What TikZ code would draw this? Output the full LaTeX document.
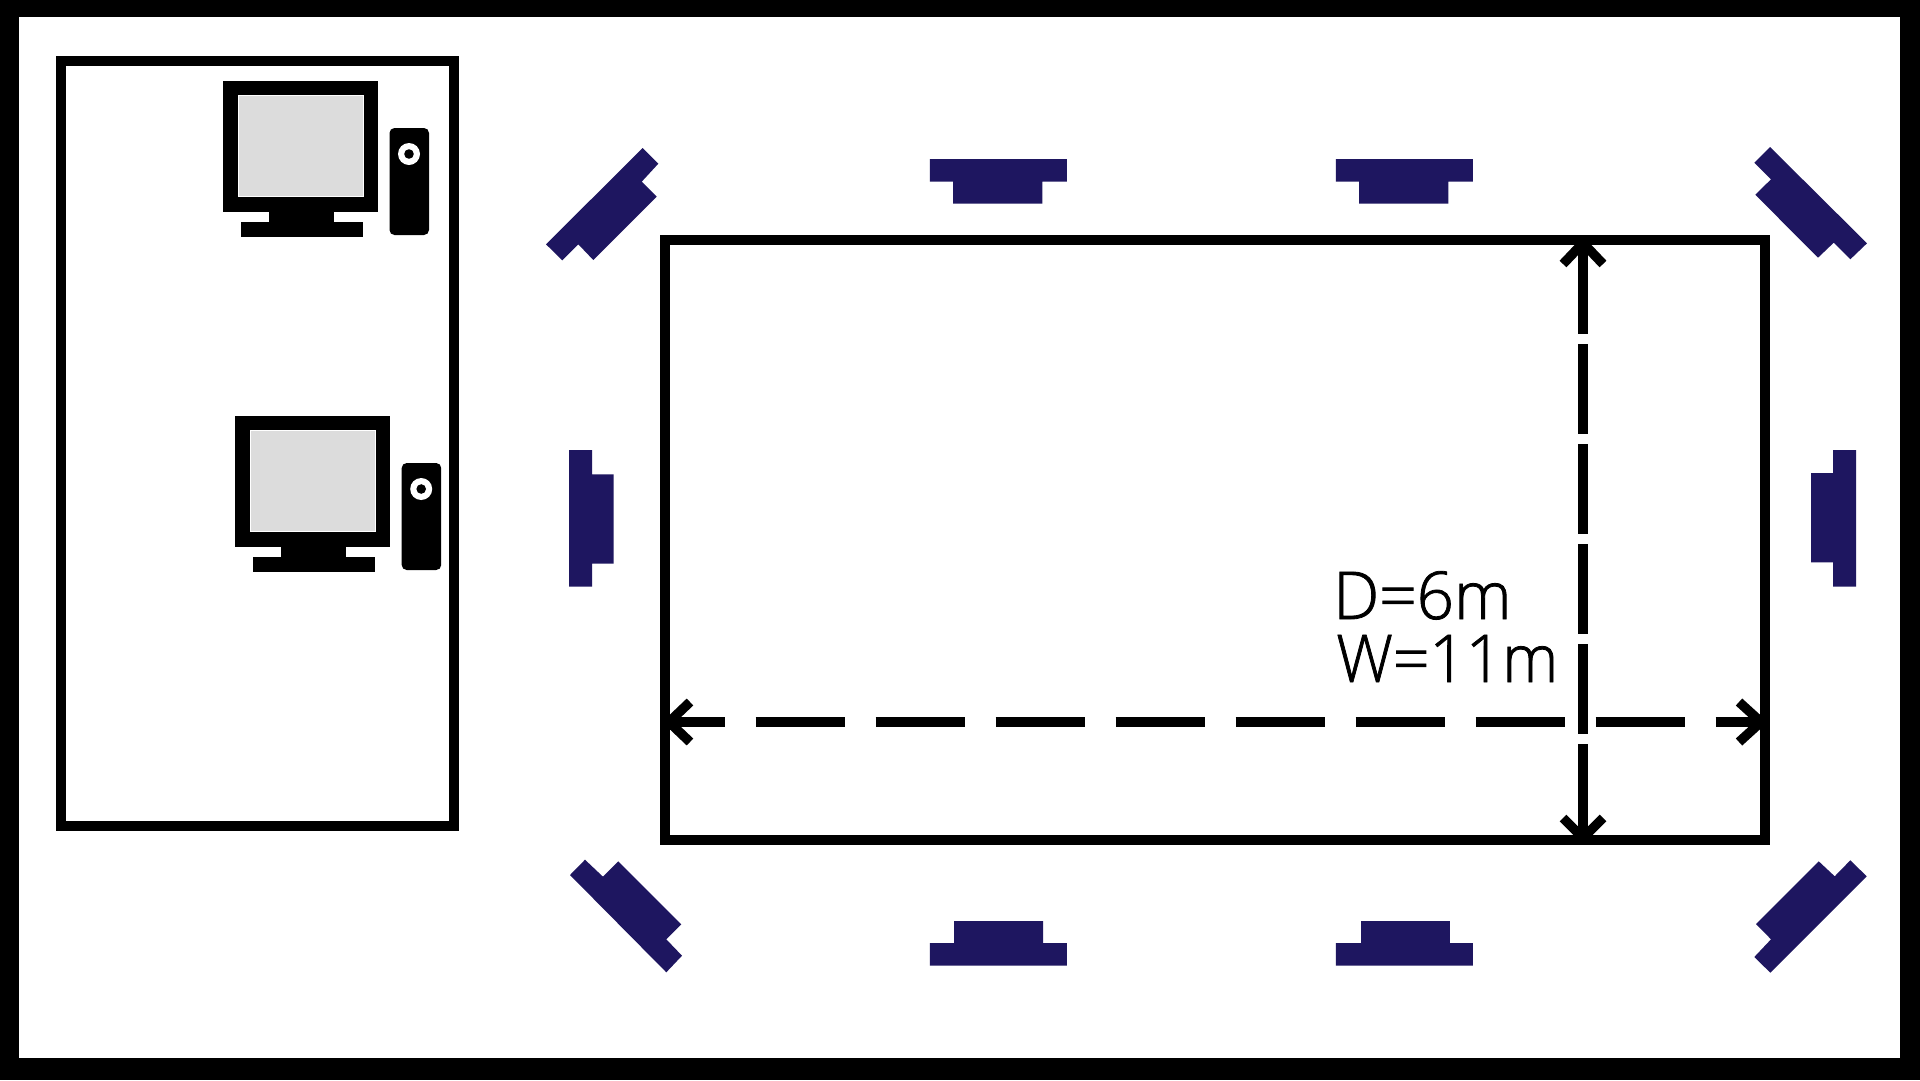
\documentclass[tikz,border=0pt]{standalone}
\usepackage{fontspec}
\setmainfont[FakeStretch=0.99,FakeBold=1.2]{Open Sans Light}
\definecolor{spk}{HTML}{1E1660}
\definecolor{scr}{HTML}{DCDCDC}
\tikzset{
  wall/.style={draw=black,line width=10pt,miter limit=10},
  spkbox/.style={fill=spk,draw=none},
  dimline/.style={draw=black,line width=9.5pt,line cap=butt},
  vee/.style={draw=black,line width=9.5pt,line join=miter,line cap=butt,miter limit=10},
  lbl/.style={font=\fontsize{66}{66}\selectfont,anchor=base west,inner sep=0pt,text=black}
}
\begin{document}
\begin{tikzpicture}[x=1pt,y=-1pt]
\useasboundingbox (0,0) rectangle (1920,1080);
% frame
\fill[black] (0,0) rectangle (1920,1080);
\fill[white] (19,17) rectangle (1900,1058);
% control room and hall
\draw[wall] (61,61) rectangle (454,825.5);
\draw[wall] (665,240) rectangle (1765,840);
% computers
\foreach \dx/\dy in {0/0,12.2/335}{
\begin{scope}[shift={(\dx,\dy)}]
  \fill[black] (223,81) rectangle (378,212);
  \fill[black] (269,212) rectangle (334,223);
  \fill[black] (240.5,222) rectangle (362.5,237);
  \fill[scr,draw=white,line width=1.2pt] (238.5,95.5) rectangle (363.5,196.5);
  \fill[black,rounded corners=5pt] (389.5,128) rectangle (429,235);
  \fill[white] (409,154) circle (11);
  \fill[black] (409,154) circle (4.8);
\end{scope}}
% speakers, straight
\fill[spkbox] (929.8,159) -- (1066.8,159) -- (1066.8,181.7) -- (1042.3,181.7) -- (1042.3,203.7) -- (953.2,203.7) -- (953.2,181.7) -- (929.8,181.7) -- cycle;
\fill[spkbox] (1335.9,159) -- (1472.8,159) -- (1472.8,181.7) -- (1448.3,181.7) -- (1448.3,203.7) -- (1359.2,203.7) -- (1359.2,181.7) -- (1335.9,181.7) -- cycle;
\fill[spkbox] (929.8,965.7) -- (1066.8,965.7) -- (1066.8,943) -- (1043.1,943) -- (1043.1,921) -- (954,921) -- (954,943) -- (929.8,943) -- cycle;
\fill[spkbox] (1335.9,965.7) -- (1472.8,965.7) -- (1472.8,943) -- (1449.9,943) -- (1449.9,921) -- (1361.1,921) -- (1361.1,943) -- (1335.9,943) -- cycle;
\fill[spkbox] (569,450) -- (592,450) -- (592,474.3) -- (613.7,474.3) -- (613.7,563.7) -- (592,563.7) -- (592,586.7) -- (569,586.7) -- cycle;
\fill[spkbox] (1856,450) -- (1833,450) -- (1833,473) -- (1811,473) -- (1811,562.3) -- (1833,562.3) -- (1833,586.7) -- (1856,586.7) -- cycle;
% speakers, diagonal
\fill[spkbox] (642.7,148) -- (658.3,163.7) -- (641.7,181.7) -- (656.7,196.7) -- (593.3,260) -- (578.3,244.3) -- (562.3,260.3) -- (546,244.3) -- cycle;
\fill[spkbox] (585,859.7) -- (603,876.7) -- (618.3,861.3) -- (681.3,924.3) -- (666.3,939.3) -- (682,955.7) -- (666.3,972.3) -- (570,875) -- cycle;
\fill[spkbox] (1770,147) -- (1754.3,162.7) -- (1771,179.3) -- (1755.3,194.7) -- (1818,257.7) -- (1833.7,242.7) -- (1850.3,259.3) -- (1867,243.3) -- cycle;
\fill[spkbox] (1818.7,861.3) -- (1834.7,876.3) -- (1850.3,860.3) -- (1866.7,876.3) -- (1770.3,972.7) -- (1754.3,957) -- (1771,939.3) -- (1756,924) -- cycle;
% dimension lines
\coordinate (wa) at (669,722);
\coordinate (wb) at (1760,722);
\coordinate (da) at (1583,244);
\coordinate (db) at (1583,836);
\draw[dimline,dash pattern=on 89pt off 31pt,dash phase=33.3pt] (wa) -- (wb);
\draw[dimline,dash pattern=on 90pt off 10pt] (da) -- (db);
\draw[vee] ([shift={(21,-20)}]wa) -- ([shift={(0,0)}]wa) -- ([shift={(21,20)}]wa);
\draw[vee] ([shift={(-21,-20)}]wb) -- ([shift={(1,0)}]wb) -- ([shift={(-21,20)}]wb);
\draw[vee] ([shift={(-20,20)}]da) -- ([shift={(0,-1)}]da) -- ([shift={(20,20)}]da);
\draw[vee] ([shift={(-20,-18)}]db) -- ([shift={(0,2)}]db) -- ([shift={(20,-18)}]db);
% labels
\node[lbl] (dlabel) at (1333,619) {D=6m};
\node[lbl,xscale=0.975,transform shape] (wlabel) at (1336,682) {W=11m};
\end{tikzpicture}
\end{document}
